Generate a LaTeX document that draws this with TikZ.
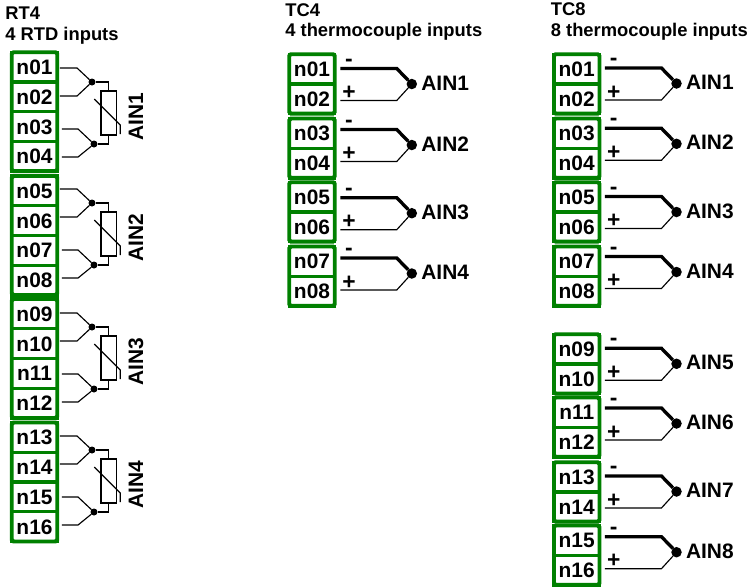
\documentclass[tikz,border=0pt]{standalone}
\usepackage{fontspec}
\setmainfont{Liberation Sans}
\definecolor{termgreen}{RGB}{0,128,0}

\begin{document}
\begin{tikzpicture}[x=0.02cm, y=-0.02cm,
	every node/.style={font=\fontsize{11.9}{13}\selectfont\bfseries},
	titletext/.style={anchor=base west, inner sep=0pt, font=\fontsize{10.45}{12}\selectfont\bfseries},
	termcell/.style={draw=termgreen, line width=1.9pt, fill=white, inner sep=0pt, outer sep=0pt, minimum width=0.91cm, minimum height=0.594cm, text height=8.5pt, text depth=0pt},
	termframe/.style={draw=termgreen, line width=2.2pt, rounded corners=1pt},
	wirethin/.style={line width=0.65pt},
	wirethick/.style={line width=1.9pt},
	rtddot/.style={circle, fill=black, inner sep=0pt, outer sep=0pt, minimum size=0.14cm},
	tcdot/.style={circle, fill=black, inner sep=0pt, outer sep=0pt, minimum size=0.21cm},
	rtdbox/.style={draw, line width=0.65pt, inner sep=0pt, outer sep=0pt, minimum width=0.31cm, minimum height=0.88cm},
	wiresign/.style={anchor=base, inner sep=0pt, font=\fontsize{13}{14}\selectfont\bfseries},
	ainlabel/.style={anchor=base west, inner sep=0pt}]
	\newcommand{\TcInput}[7]{% prefix, cell x, group top, top wire y, terminals, label
		\node[termcell] (#1#5) at (#2,#3+14.85) {n#5};
		\node[termcell] (#1#6) at (#2,#3+44.55) {n#6};
		\draw[termframe] (#1#5.north west) rectangle (#1#6.south east);
		\node[tcdot] (#1dot#5) at (#2+99.8,#4+15.5) {};
		\draw[wirethick] ([shift={(5.5,#4-#3-14.85)}]#1#5.east) -- ++(56.5,0) -- (#1dot#5);
		\draw[wirethin] ([shift={(5.5,#4+32-#3-44.55)}]#1#6.east) -- ++(56.5,0) -- (#1dot#5);
		\node[wiresign] (#1minus#5) at (#2+37,#4-2.5) {-};
		\node[wiresign] (#1plus#5) at (#2+37,#4+31) {+};
		\node[ainlabel] (#1ain#5) at (#2+109,#4+21.5) {#7};
	}
	\useasboundingbox (0,0) rectangle (750,586);

	% RT4
	\node[titletext] (rttitle) at (5,19) {RT4};
	\node[titletext] (rtsub) at (5,40.6) {4 RTD inputs};
	\foreach \off/\top/\a/\b/\c/\d/\lab in {0/52.2/01/02/03/04/AIN1, 121/176/05/06/07/08/AIN2, 245/299/09/10/11/12/AIN3, 368/422.5/13/14/15/16/AIN4}{
		\pgfmathsetmacro{\dy}{\off+52.2-\top}
		\node[termcell] (rt\a) at (34.5,\top+14.875) {n\a};
		\node[termcell] (rt\b) at (34.5,\top+44.625) {n\b};
		\node[termcell] (rt\c) at (34.5,\top+74.375) {n\c};
		\node[termcell] (rt\d) at (34.5,\top+104.125) {n\d};
		\draw[termframe] (rt\a.north west) rectangle (rt\d.south east);
		\node[rtddot] (rtdot\a) at (92,\off+82) {};
		\node[rtddot] (rtdot\c) at (94,\off+144) {};
		\node[rtdbox] (rtbox\a) at (108.8,\off+113) {};
		\draw[wirethin] ([shift={(2.75,0.9+\dy)}]rt\a.east) -- ++(17,0) -- (rtdot\a);
		\draw[wirethin] ([shift={(2.75,-0.8+\dy)}]rt\b.east) -- ++(17,0) -- (rtdot\a);
		\draw[wirethin] ([shift={(4.75,2.4+\dy)}]rt\c.east) -- ++(16,0) -- (rtdot\c);
		\draw[wirethin] ([shift={(4.75,0.7+\dy)}]rt\d.east) -- ++(16,0) -- (rtdot\c);
		\draw[wirethin] (rtdot\a) -| (rtbox\a.north);
		\draw[wirethin] (rtdot\c) -| (rtbox\a.south);
		\draw[wirethin] (94.3,\off+99) -- (120.3,\off+125) -- (120.3,\off+134); % thermistor slash
		\node[anchor=base, inner sep=0pt, rotate=90] (rtain\a) at (143,\off+117) {\lab};
	}

	% TC4
	\node[titletext] (tcatitle) at (285,16) {TC4};
	\node[titletext] (tcasub) at (285,36.7) {4 thermocouple inputs};
	\foreach \top/\wire/\a/\b/\lab in {54.2/68.5/01/02/AIN1, 118.5/129.5/03/04/AIN2, 182.2/197.7/05/06/AIN3, 246.5/258/07/08/AIN4}{
		\TcInput{tca}{312}{\top}{\wire}{\a}{\b}{\lab}
	}

	% TC8
	\node[titletext] (tcbtitle) at (550.5,15.5) {TC8};
	\node[titletext] (tcbsub) at (550.5,36.7) {8 thermocouple inputs};
	\foreach \top/\wire/\a/\b/\lab in {54.2/68/01/02/AIN1, 118.5/128.3/03/04/AIN2, 182.2/196.5/05/06/AIN3, 246.5/256.5/07/08/AIN4, 334.2/348.3/09/10/AIN5, 397.5/408/11/12/AIN6, 462.2/476/13/14/AIN7, 525.5/536.7/15/16/AIN8}{
		\TcInput{tcb}{576.7}{\top}{\wire}{\a}{\b}{\lab}
	}
\end{tikzpicture}
\end{document}
